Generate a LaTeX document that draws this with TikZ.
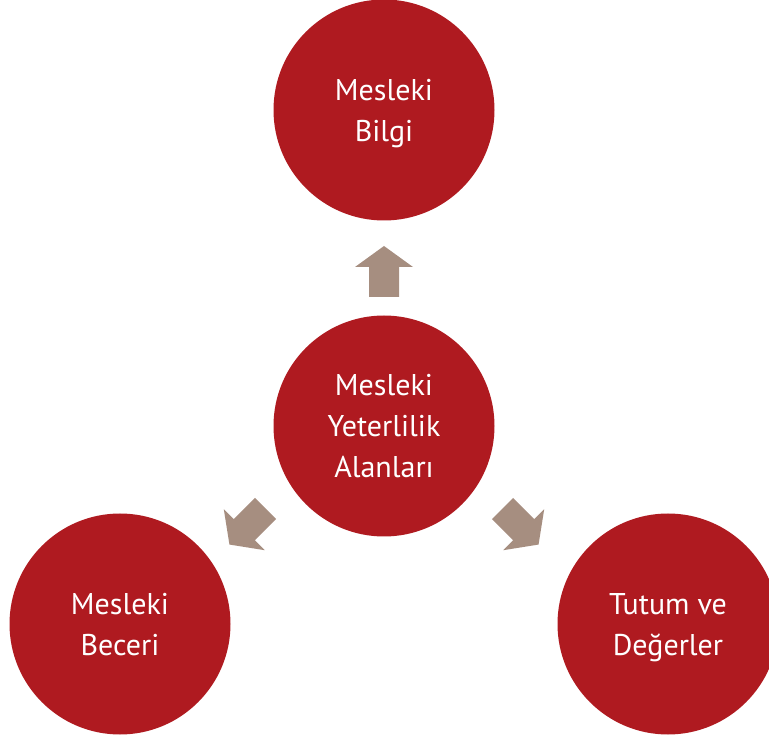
\documentclass[tikz,border=0pt]{standalone}
\usepackage{fontspec}
\setmainfont{PT Sans}
\usepackage{tikz}
\usepackage{xcolor}
\definecolor{areared}{RGB}{175,26,32}
\definecolor{arrowtaupe}{RGB}{166,142,128}
\tikzset{
	area/.style={circle,fill=areared,minimum size=221pt,inner sep=0pt,text=white,align=center,text depth=0pt,font=\fontsize{30}{41}\selectfont},
	blockarr/.pic={\fill[arrowtaupe] (0,-15) -- (30,-15) -- (30,-29) -- (51,0) -- (30,29) -- (30,15) -- (0,15) -- cycle;}
}

\begin{document}
\begin{tikzpicture}[x=1pt,y=1pt]
		\useasboundingbox (0,0) rectangle (769,740);
		\clip (0,0) rectangle (769,740);
		
		\node[area] (yeter) at (384,314) {Mesleki\\Yeterlilik\\Alanları};
		\node[area] (bilgi) at (384,630) {Mesleki\\Bilgi};
		\node[area] (beceri) at (120,116) {Mesleki\\Beceri};
		\node[area] (tutum) at (668,116) {Tutum ve\\Değerler};
		
		\pic[rotate=90] at (384,443) {blockarr};
		\pic[rotate=225] at (265.5,231.5) {blockarr};
		\pic[rotate=-45] at (502.5,231.5) {blockarr};
		\end{tikzpicture}
\end{document}
